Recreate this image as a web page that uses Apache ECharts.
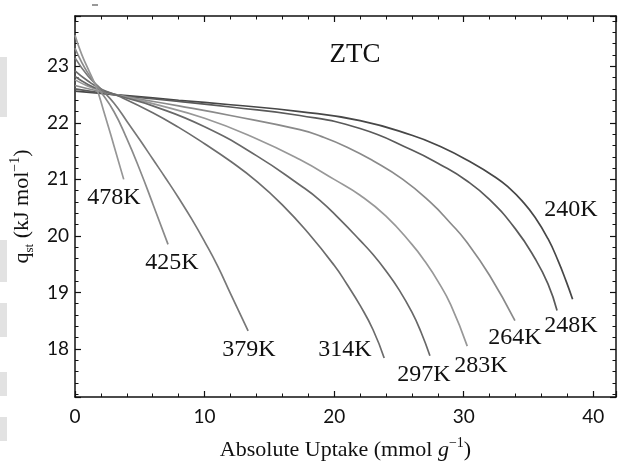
<!DOCTYPE html>
<html><head><meta charset="utf-8">
<script src="https://cdn.jsdelivr.net/npm/echarts/dist/echarts.min.js"></script>
<style>html,body{margin:0;padding:0;background:#fff}#c{width:621px;height:466px}</style>
</head><body><div id="c"></div>
<script>
// ---- data ----
const xTicks = [0, 10, 20, 30, 40];
const yTicks = [18, 19, 20, 21, 22, 23];
const names = ['240K', '248K', '264K', '283K', '297K', '314K', '379K', '425K', '478K'];
const c240 = [[0,22.56],[2,22.52],[4,22.48],[8,22.4],[12,22.32],[17.35,22.2],[22,22.04],[26,21.78],[28.2,21.58],[30.5,21.31],[32.5,21.03],[33.5,20.85],[34.5,20.62],[35.5,20.33],[36.5,19.95],[37.3,19.55],[37.9,19.2],[38.4,18.88]];
const c248 = [[0,22.6],[2,22.53],[4,22.47],[8,22.38],[12,22.28],[17.35,22.13],[22,21.9],[26,21.52],[28.2,21.26],[30.2,20.98],[32,20.64],[34,20.12],[35.5,19.6],[36.5,19.15],[37.2,18.68]];
const c264 = [[0,22.66],[2,22.55],[4,22.46],[8,22.3],[12,22.13],[17.35,21.88],[19,21.76],[21,21.57],[23,21.33],[25.3,21.0],[27.4,20.6],[29,20.22],[30.2,19.9],[32,19.3],[33.95,18.5]];
const c283 = [[0,22.76],[1,22.65],[2,22.57],[3.5,22.48],[6,22.34],[10,22.08],[14,21.72],[17.35,21.35],[20,21.0],[22,20.72],[24,20.35],[26,19.85],[27,19.55],[28,19.2],[29,18.78],[30.27,18.05]];
const c297 = [[0,22.82],[1,22.68],[2,22.58],[3.5,22.47],[6,22.3],[10,21.93],[14,21.42],[17.35,20.9],[18.9,20.63],[20.4,20.3],[22,19.92],[23,19.67],[24,19.38],[25,19.05],[26,18.65],[26.7,18.3],[27.39,17.88]];
const c314 = [[0,22.92],[1,22.74],[2,22.6],[3.5,22.46],[6,22.18],[8,21.92],[10,21.63],[12,21.32],[14,20.97],[16,20.55],[18,20.05],[20,19.48],[21,19.14],[22,18.77],[23,18.34],[23.86,17.84]];
const c379 = [[0,23.15],[1,22.83],[2,22.6],[3,22.35],[4,22.03],[5,21.7],[6,21.36],[7,21.02],[8,20.67],[9,20.3],[10,19.9],[11,19.47],[12,18.98],[13.36,18.32]];
const c425 = [[0,23.32],[0.5,23.08],[1,22.88],[1.9,22.58],[3,22.2],[4,21.72],[5,21.17],[6,20.57],[7.18,19.85]];
const c478 = [[0,23.55],[0.5,23.22],[1,22.96],[1.65,22.62],[2.2,22.22],[3,21.6],[3.76,21.0]];
const curves = [c240, c248, c264, c283, c297, c314, c379, c425, c478];

// ---- styles ----
const colors = ['#474747','#5a5a5a','#8a8a8a','#989898','#686868','#6c6c6c','#787878','#8a8a8a','#969696'];
const labelPix = [[571,210],[571,326],[515,338],[481,366],[424,375],[345,350],[249,350],[172,263],[114,198]];
const serif = "'Liberation Serif', 'DejaVu Serif', serif";
const sans = "Lato, 'Open Sans', sans-serif";

const chart = echarts.init(document.getElementById('c'), null, {renderer: 'canvas'});

function axisCommon() {
  return {
    axisLine: {show: true, onZero: false, lineStyle: {color: '#111', width: 1.5}},
    axisTick: {show: true, inside: true, length: 6, lineStyle: {color: '#111', width: 1.2}},
    minorTick: {show: true, splitNumber: 5, length: 3.5, lineStyle: {color: '#111', width: 1}},
    splitLine: {show: false},
    minorSplitLine: {show: false}
  };
}

const XMIN = 0, XMAX = 41.75, YMIN = 17.15, YMAX = 23.89;

const option = {
  animation: false,
  backgroundColor: '#fff',
  grid: {left: 75, right: 5, top: 16, bottom: 68, containLabel: false},
  xAxis: [
    Object.assign(axisCommon(), {
      type: 'value', position: 'bottom', min: XMIN, max: XMAX, splitNumber: 4,
      axisLabel: {show: true, margin: 10, color: '#111', fontFamily: sans, fontSize: 19,
        showMaxLabel: false,
        formatter: v => xTicks.includes(v) ? String(v) : ''},
      name: '{t|Absolute Uptake (mmol }{i|g}{s|−1}{t|)}',
      nameLocation: 'middle', nameGap: 39,
      nameTextStyle: {color: '#111', fontFamily: serif, fontSize: 22,
        rich: {
          t: {fontFamily: serif, fontSize: 22, lineHeight: 28, color: '#111'},
          i: {fontFamily: serif, fontSize: 22, fontStyle: 'italic', lineHeight: 28, color: '#111'},
          s: {fontFamily: serif, fontSize: 14, lineHeight: 14, verticalAlign: 'top', color: '#111'}
        }}
    }),
    Object.assign(axisCommon(), {
      type: 'value', position: 'top', min: XMIN, max: XMAX, splitNumber: 4,
      axisLabel: {show: false}
    })
  ],
  yAxis: [
    Object.assign(axisCommon(), {
      type: 'value', position: 'left', min: YMIN, max: YMAX, splitNumber: 6,
      axisLabel: {show: true, margin: 6, color: '#111', fontFamily: sans, fontSize: 19,
        showMinLabel: false, showMaxLabel: false,
        formatter: v => yTicks.includes(v) ? String(v) : ''},
      name: '{q|q}{b|st}{t| (kJ mol}{s|−1}{t|)}',
      nameLocation: 'middle', nameGap: 31,
      nameTextStyle: {color: '#111', fontFamily: serif, fontSize: 22,
        rich: {
          q: {fontFamily: serif, fontSize: 22, lineHeight: 28, color: '#111'},
          b: {fontFamily: serif, fontSize: 13, lineHeight: 16, verticalAlign: 'bottom', color: '#111'},
          t: {fontFamily: serif, fontSize: 22, lineHeight: 28, color: '#111'},
          s: {fontFamily: serif, fontSize: 14, lineHeight: 14, verticalAlign: 'top', color: '#111'}
        }}
    }),
    Object.assign(axisCommon(), {
      type: 'value', position: 'right', min: YMIN, max: YMAX, splitNumber: 6,
      axisLabel: {show: false}
    })
  ],
  series: curves.map((c, i) => ({
    type: 'line', name: names[i], data: c, xAxisIndex: 0, yAxisIndex: 0,
    showSymbol: false, symbol: 'none', smooth: 0.5,
    lineStyle: {color: colors[i], width: 1.7}, z: 3
  })),
  graphic: [
    ...[[57,60],[240,42],[303,34],[372,24],[417,24]].map(r => ({
      type: 'rect', shape: {x: 0, y: r[0], width: 7, height: r[1]},
      style: {fill: '#e2e2e2'}, silent: true, z: 0
    })),
    {type: 'rect', shape: {x: 92, y: 4, width: 6, height: 2}, style: {fill: '#999'}, silent: true},
    {type: 'text', x: 355, y: 55, style: {text: 'ZTC', fill: '#111', font: "27px 'Liberation Serif', serif", textAlign: 'center', textVerticalAlign: 'middle'}, z: 10},
    ...names.map((n, i) => ({
      type: 'text', x: labelPix[i][0], y: labelPix[i][1],
      style: {text: n, fill: '#111', font: "24px 'Liberation Serif', serif", textAlign: 'center', textVerticalAlign: 'middle'},
      z: 10
    }))
  ]
};
chart.setOption(option);
</script>
</body></html>
